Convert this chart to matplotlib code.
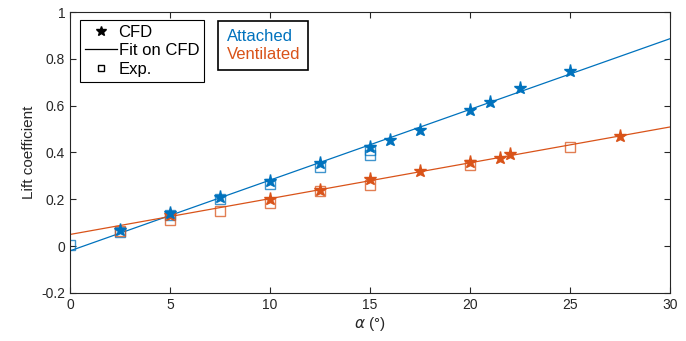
import numpy as np
import matplotlib.pyplot as plt
from matplotlib.lines import Line2D

plt.rcParams['font.family'] = ['Liberation Sans', 'DejaVu Sans']

azul = '#0072BD'
laranja = '#D95319'

# Attached - CFD
att_cfd_a = [2.5, 5, 7.5, 10, 12.5, 15, 16, 17.5, 20, 21, 22.5, 25]
att_cfd_cl = [0.07, 0.14, 0.21, 0.28, 0.355, 0.425, 0.455, 0.495, 0.58, 0.615, 0.675, 0.75]
# Attached - Exp
att_exp_a = [0, 2.5, 5, 7.5, 10, 12.5, 15, 15]
att_exp_cl = [0.005, 0.06, 0.135, 0.2, 0.265, 0.34, 0.39, 0.41]
# Ventilated - CFD
ven_cfd_a = [5, 10, 12.5, 15, 17.5, 20, 21.5, 22, 27.5]
ven_cfd_cl = [0.135, 0.2, 0.24, 0.285, 0.32, 0.36, 0.375, 0.395, 0.47]
# Ventilated - Exp
ven_exp_a = [2.5, 5, 7.5, 10, 12.5, 15, 20, 25]
ven_exp_cl = [0.065, 0.11, 0.15, 0.185, 0.235, 0.26, 0.345, 0.425]
# ajustes lineares (inclinacao, intercepto)
att_fit = (0.0302, -0.02)
ven_fit = (0.0153, 0.05)

fig = plt.figure(figsize=(6.86, 3.41), dpi=100)
ax = fig.add_axes([70 / 686, 48 / 341, 600 / 686, 281 / 341])

x = np.array([0, 30])
ax.plot(x, att_fit[0] * x + att_fit[1], color=azul, lw=0.9)
ax.plot(x, ven_fit[0] * x + ven_fit[1], color=laranja, lw=0.9)

ax.plot(att_exp_a, att_exp_cl, 's', mfc='none', mec=azul, ms=7, mew=1, alpha=0.75)
ax.plot(ven_exp_a, ven_exp_cl, 's', mfc='none', mec=laranja, ms=7, mew=1, alpha=0.75)
ax.plot(ven_cfd_a, ven_cfd_cl, '*', color=laranja, ms=9.5)
ax.plot(att_cfd_a, att_cfd_cl, '*', color=azul, ms=9.5)

ax.set_xlim(0, 30)
ax.set_ylim(-0.2, 1)
ax.set_xticks([0, 5, 10, 15, 20, 25, 30])
ax.set_yticks([-0.2, 0, 0.2, 0.4, 0.6, 0.8, 1])
ax.set_yticklabels(['-0.2', '0', '0.2', '0.4', '0.6', '0.8', '1'])
ax.tick_params(direction='in', top=True, right=True, labelsize=10, length=4, colors='#262626')
for s in ax.spines.values():
    s.set_color('#262626')
    s.set_linewidth(0.8)
ax.set_xlabel(r'$\alpha$ (°)', fontsize=11, color='#262626', labelpad=2)
ax.set_ylabel('Lift coefficient', fontsize=11, color='#262626')

h1 = [Line2D([], [], ls='none', marker='*', color='k', ms=7),
      Line2D([], [], color='k', lw=0.9),
      Line2D([], [], ls='none', marker='s', mfc='none', mec='k', ms=4)]
leg1 = ax.legend(h1, ['CFD', 'Fit on CFD', 'Exp.'], loc='upper left',
                 bbox_to_anchor=(0.017, 0.972), fancybox=False, edgecolor='k',
                 framealpha=1, fontsize=12, handlelength=1.9, handletextpad=0.1,
                 borderpad=0.3, labelspacing=0.2, borderaxespad=0)
leg1.get_frame().set_linewidth(0.8)
ax.add_artist(leg1)

h2 = [Line2D([], [], ls='none'), Line2D([], [], ls='none')]
leg2 = ax.legend(h2, ['Attached', 'Ventilated'], loc='upper left',
                 bbox_to_anchor=(0.247, 0.968), fancybox=False, edgecolor='k',
                 framealpha=1, fontsize=12, handlelength=0, handletextpad=0,
                 borderpad=0.5, labelspacing=0.15, borderaxespad=0)
leg2.get_frame().set_linewidth(1.2)
for t, c in zip(leg2.get_texts(), [azul, laranja]):
    t.set_color(c)

fig.savefig('out.png', dpi=100)
